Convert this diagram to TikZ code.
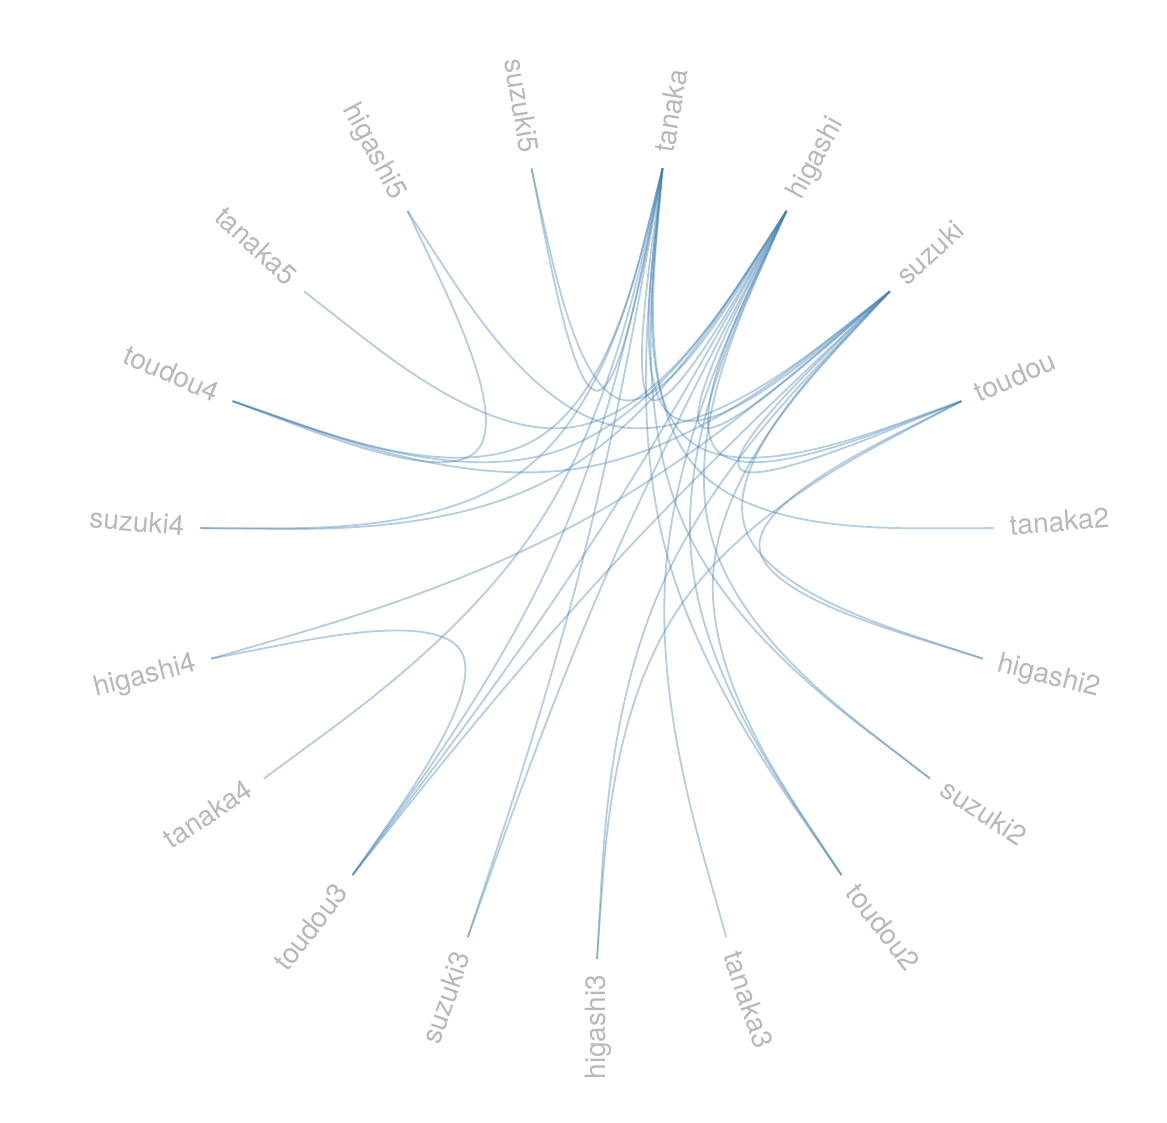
\documentclass[tikz,border=0pt]{standalone}
\usepackage{fontspec}
\setmainfont{TeX Gyre Heros}
\usetikzlibrary{calc}
\definecolor{steelblue}{RGB}{70,130,180}
\definecolor{lblgray}{RGB}{184,184,184}
\tikzset{
  link/.style={draw=steelblue, draw opacity=0.4, line width=1.8pt},
  lbl/.style={text=lblgray, inner sep=0pt, font=\fontsize{28}{34}\selectfont}
}
\newcommand\hebedge[2]{%
  \path ($(#1)!0.5!(#2)$) coordinate (mid)
        ($(C)!0.15!(mid)$) coordinate (P1);
  \draw[link] (#1) -- ($(#1)!0.1666667!(P1)$)
     .. controls ($(#1)!0.3333333!(P1)$) and ($(#1)!0.6666667!(P1)$) .. ($(P1)!0.3333333!(mid)$)
     .. controls ($(P1)!0.3333333!(#2)$) and ($(P1)!0.6666667!(#2)$) .. ($(P1)!0.8333333!(#2)$) -- (#2);
}
\begin{document}
\begin{tikzpicture}[x=1pt,y=1pt]
\useasboundingbox (0,0) rectangle (1167,1123);
\coordinate (C) at (597,562);
\foreach \nm [count=\i from 0] in {tanaka,higashi,suzuki,toudou,tanaka2,higashi2,suzuki2,toudou2,tanaka3,higashi3,suzuki3,toudou3,tanaka4,higashi4,suzuki4,toudou4,tanaka5,higashi5,suzuki5}{
  \pgfmathsetmacro\th{(\i+0.5)*360/19}
  \pgfmathsetmacro\ph{90-\th}
  \pgfmathsetmacro\pha{\ph-90}
  \pgfmathsetmacro\phb{\ph+90}
  \pgfmathsetmacro\phr{\ph+180}
  \coordinate (\nm) at ($(C)+(\ph:398)$);
  \ifdim\th pt<180pt
    \node[lbl,rotate=\ph,anchor=base west] (l-\nm) at ($(C)+(\ph:414)+(\pha:8.7)$) {\nm};
  \else
    \node[lbl,rotate=\phr,anchor=base east] (l-\nm) at ($(C)+(\ph:414)+(\phb:8.7)$) {\nm};
  \fi
}
% hub-hub
\hebedge{higashi}{tanaka}
\hebedge{suzuki}{tanaka}
\hebedge{suzuki}{higashi}
\hebedge{toudou}{tanaka}
\hebedge{toudou}{higashi}
\hebedge{toudou}{suzuki}
% leaves
\hebedge{tanaka2}{tanaka}
\hebedge{higashi2}{suzuki}
\hebedge{higashi2}{toudou}
\hebedge{suzuki2}{tanaka}
\hebedge{suzuki2}{higashi}
\hebedge{toudou2}{tanaka}
\hebedge{toudou2}{higashi}
\hebedge{toudou2}{suzuki}
\hebedge{tanaka3}{higashi}
\hebedge{higashi3}{suzuki}
\hebedge{higashi3}{toudou}
\hebedge{suzuki3}{tanaka}
\hebedge{suzuki3}{higashi}
\hebedge{toudou3}{tanaka}
\hebedge{toudou3}{higashi}
\hebedge{toudou3}{suzuki}
\hebedge{toudou3}{higashi4}
\hebedge{tanaka4}{tanaka}
\hebedge{higashi4}{suzuki}
\hebedge{suzuki4}{tanaka}
\hebedge{suzuki4}{higashi}
\hebedge{toudou4}{tanaka}
\hebedge{toudou4}{higashi}
\hebedge{toudou4}{suzuki}
\hebedge{toudou4}{higashi5}
\hebedge{tanaka5}{higashi}
\hebedge{higashi5}{suzuki}
\hebedge{suzuki5}{tanaka}
\hebedge{suzuki5}{higashi}
\end{tikzpicture}
\end{document}
